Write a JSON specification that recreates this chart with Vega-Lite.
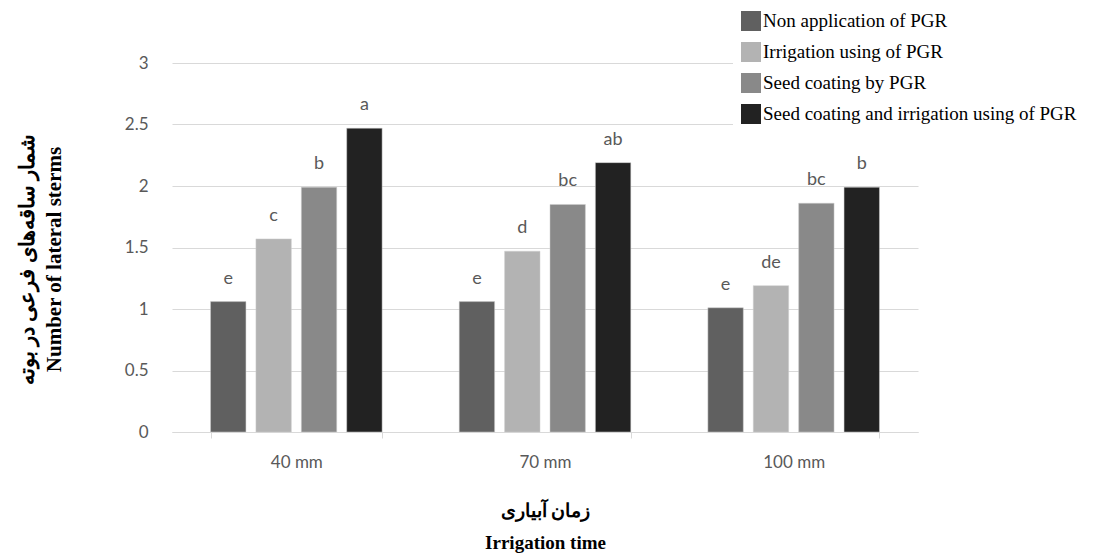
{
  "$schema": "https://vega.github.io/schema/vega-lite/v6.json",
  "autosize": {"type": "none"},
  "width": 746,
  "height": 369,
  "padding": {"left": 172, "top": 63, "right": 197, "bottom": 121},
  "background": "white",
  "view": {"stroke": null},
  "data": {
    "values": [
      {"time": "40 mm", "treatment": "Non application of PGR", "value": 1.06, "letter": "e"},
      {"time": "40 mm", "treatment": "Irrigation using of PGR", "value": 1.57, "letter": "c"},
      {"time": "40 mm", "treatment": "Seed coating by PGR", "value": 1.99, "letter": "b"},
      {"time": "40 mm", "treatment": "Seed coating and irrigation using of PGR", "value": 2.47, "letter": "a"},
      {"time": "70 mm", "treatment": "Non application of PGR", "value": 1.06, "letter": "e"},
      {"time": "70 mm", "treatment": "Irrigation using of PGR", "value": 1.47, "letter": "d"},
      {"time": "70 mm", "treatment": "Seed coating by PGR", "value": 1.85, "letter": "bc"},
      {"time": "70 mm", "treatment": "Seed coating and irrigation using of PGR", "value": 2.19, "letter": "ab"},
      {"time": "100 mm", "treatment": "Non application of PGR", "value": 1.01, "letter": "e"},
      {"time": "100 mm", "treatment": "Irrigation using of PGR", "value": 1.19, "letter": "de"},
      {"time": "100 mm", "treatment": "Seed coating by PGR", "value": 1.86, "letter": "bc"},
      {"time": "100 mm", "treatment": "Seed coating and irrigation using of PGR", "value": 1.99, "letter": "b"}
    ]
  },
  "encoding": {
    "x": {
      "field": "time",
      "type": "nominal",
      "sort": ["40 mm", "70 mm", "100 mm"],
      "scale": {"paddingInner": 0.31, "paddingOuter": 0.155},
      "axis": {
        "title": ["زمان آبیاری", "Irrigation time"],
        "titleFont": "Liberation Serif",
        "titleFontSize": 19,
        "titleFontWeight": "bold",
        "titleColor": "black",
        "titlePadding": 31,
        "titleLineHeight": 32,
        "labelAngle": 0,
        "labelFont": "Lato",
        "labelFontSize": 17,
        "labelColor": "#595959",
        "labelPadding": 16,
        "tickBand": "extent",
        "tickColor": "#d9d9d9",
        "tickSize": 6,
        "domainColor": "#d9d9d9",
        "grid": false
      }
    },
    "xOffset": {
      "field": "treatment",
      "type": "nominal",
      "sort": ["Non application of PGR", "Irrigation using of PGR", "Seed coating by PGR", "Seed coating and irrigation using of PGR"],
      "scale": {"paddingInner": 0.22, "paddingOuter": 0}
    },
    "y": {
      "field": "value",
      "type": "quantitative",
      "scale": {"domain": [0, 3]},
      "axis": {
        "values": [0, 0.5, 1, 1.5, 2, 2.5, 3],
        "format": "~g",
        "title": ["شمار ساقه‌های فرعی در بوته", "Number of lateral sterms"],
        "titleFont": "Liberation Serif",
        "titleFontSize": 21,
        "titleFontWeight": "bold",
        "titleColor": "black",
        "titlePadding": 60,
        "titleLineHeight": 27,
        "titleY": 196,
        "labelFont": "Lato",
        "labelFontSize": 17,
        "labelColor": "#595959",
        "labelPadding": 24,
        "ticks": false,
        "domain": false,
        "gridColor": "#d9d9d9",
        "gridWidth": 1
      }
    }
  },
  "layer": [
    {
      "mark": {"type": "bar", "stroke": "#cfcfcf", "strokeWidth": 0.5},
      "encoding": {
        "color": {
          "field": "treatment",
          "type": "nominal",
          "sort": ["Non application of PGR", "Irrigation using of PGR", "Seed coating by PGR", "Seed coating and irrigation using of PGR"],
          "scale": {"range": ["#606060", "#b3b3b3", "#898989", "#222222"]},
          "legend": {
            "title": null,
            "orient": "none",
            "legendX": 561,
            "legendY": -60,
            "fillColor": "white",
            "padding": 8,
            "symbolType": "square",
            "symbolSize": 400,
            "symbolStrokeWidth": 0,
            "symbolOpacity": 1,
            "labelFont": "Liberation Serif",
            "labelFontSize": 19,
            "labelColor": "black",
            "labelOffset": 2,
            "labelLimit": 400,
            "rowPadding": 11
          }
        }
      }
    },
    {
      "mark": {"type": "text", "baseline": "alphabetic", "dy": -18, "font": "Lato", "fontSize": 18, "color": "#595959"},
      "encoding": {
        "text": {"field": "letter"}
      }
    }
  ]
}
